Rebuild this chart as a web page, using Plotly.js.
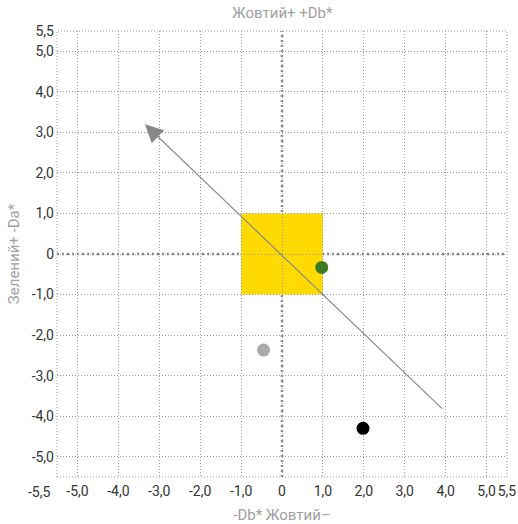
<!DOCTYPE html>
<html>
<head>
<meta charset="utf-8">
<script src="https://cdn.plot.ly/plotly-3.0.1.min.js"></script>
<style>html,body{margin:0;padding:0;background:#fff;}#chart{width:518px;height:524px;}</style>
</head>
<body>
<div id="chart"></div>
<script>
// Tick values and labels
const tickVals = [-5.5, -5, -4, -3, -2, -1, 0, 1, 2, 3, 4, 5, 5.5];
const tickLabels = ["-5,5", "-5,0", "-4,0", "-3,0", "-2,0", "-1,0", "0", "1,0", "2,0", "3,0", "4,0", "5,0", "5,5"];

// Sample points
const pointX = [0.97, -0.45, 1.98];
const pointY = [-0.33, -2.37, -4.3];
const pointColors = ["#3d7a1f", "#aaaaaa", "#000000"];

// Tolerance square (yellow zone)
const squareX = [-1, 1];
const squareY = [-1, 1];

// Arrow from start to head
const arrowStart = [3.95, -3.85];
const arrowHead = [-3.35, 3.2];

const axisRange = [-5.5, 5.5];

const font = "Roboto, 'Open Sans', sans-serif";

// Outer-left labels: y axis shows none at -5,5; x axis "-5,5" sits left of the plot (drawn as annotation)
const xTickText = tickLabels.map((t, i) => i === 0 ? "" : t);
const yTickText = tickLabels.map((t, i) => i === 0 ? "" : t);

const traces = [{
  type: "scatter",
  mode: "markers",
  x: pointX,
  y: pointY,
  marker: {color: pointColors, size: 13},
  hoverinfo: "x+y",
  showlegend: false
}];

const axisCommon = {
  range: axisRange,
  tickmode: "array",
  tickvals: tickVals,
  showgrid: true,
  gridcolor: "#999999",
  griddash: "1px,2px",
  gridwidth: 1,
  zeroline: false,
  showline: false,
  ticks: "",
  tickangle: 0,
  automargin: false,
  tickfont: {family: font, size: 14, color: "#333"},
  fixedrange: true
};

const layout = {
  width: 518,
  height: 524,
  margin: {l: 57, r: 11, t: 31, b: 47},
  paper_bgcolor: "#fff",
  plot_bgcolor: "#fff",
  showlegend: false,
  xaxis: Object.assign({}, axisCommon, {
    ticktext: xTickText,
    ticklabelstandoff: 4,
    title: {text: "-Db* Жовтий–", font: {family: font, size: 15, color: "#a0a0a0"}, standoff: 16}
  }),
  yaxis: Object.assign({}, axisCommon, {
    ticktext: yTickText,
    ticklabelstandoff: 2,
    title: {text: "Зелений+ -Da*", font: {family: font, size: 15, color: "#a0a0a0"}, standoff: 8}
  }),
  shapes: [
    {type: "rect", xref: "x", yref: "y", x0: squareX[0], x1: squareX[1], y0: squareY[0], y1: squareY[1],
     fillcolor: "#ffda00", line: {width: 0}, layer: "below"},
    {type: "rect", xref: "paper", yref: "paper", x0: 0, x1: 1, y0: 0, y1: 1,
     line: {color: "#999", width: 1, dash: "1px,2px"}, layer: "below"},
    {type: "line", xref: "x", yref: "paper", x0: 0, x1: 0, y0: 0, y1: 1,
     line: {color: "#888", width: 2.5, dash: "2px,3px"}, layer: "between"},
    {type: "line", xref: "paper", yref: "y", x0: 0, x1: 1, y0: 0, y1: 0,
     line: {color: "#888", width: 2.5, dash: "2px,3px"}, layer: "between"}
  ],
  annotations: [
    {x: arrowHead[0], y: arrowHead[1], ax: arrowStart[0], ay: arrowStart[1], xref: "x", yref: "y",
     axref: "x", ayref: "y", showarrow: true, arrowhead: 2, arrowsize: 3, arrowwidth: 1.2,
     arrowcolor: "#888", text: ""},
    {text: "Жовтий+ +Db*", xref: "paper", yref: "paper", x: 0.5, y: 1, yanchor: "bottom", yshift: 7,
     showarrow: false, font: {family: font, size: 15, color: "#a0a0a0"}},
    {text: tickLabels[0], xref: "x", yref: "paper", x: tickVals[0], y: 0, xanchor: "center", yanchor: "top",
     xshift: -18, yshift: -5, showarrow: false, font: {family: font, size: 14, color: "#333"}}
  ]
};

Plotly.newPlot("chart", traces, layout, {displayModeBar: false, staticPlot: true});
</script>
</body>
</html>
